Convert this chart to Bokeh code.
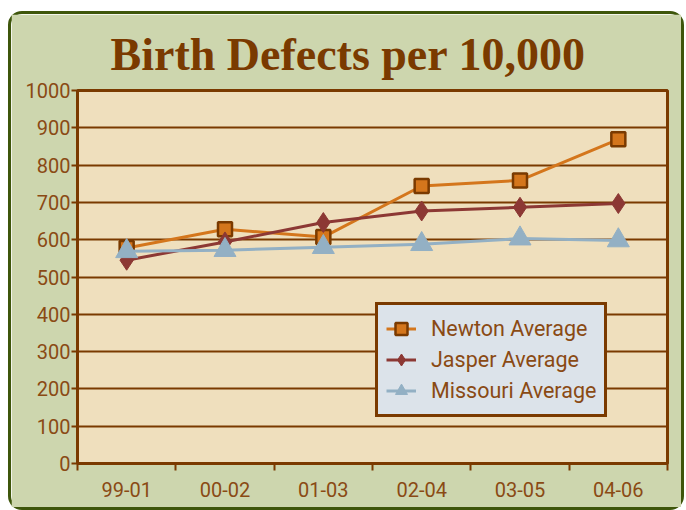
from bokeh.plotting import figure
from bokeh.models import Range1d, FixedTicker, Legend, LegendItem, Title
from bokeh.embed import file_html
from bokeh.resources import INLINE

periods = ["99-01", "00-02", "01-03", "02-04", "03-05", "04-06"]
newton = [578, 628, 607, 744, 759, 869]
jasper = [545, 594, 646, 677, 687, 697]
missouri = [569, 572, 580, 588, 603, 598]
y_ticks = [0, 100, 200, 300, 400, 500, 600, 700, 800, 900, 1000]
title_text = "Birth Defects per 10,000"

BROWN = "#7a3a00"
LABEL = "#8a4a14"
GREEN = "#cdd6ae"
FONT = "Roboto"

xpos = list(range(1, len(periods) + 1))

p = figure(width=670, height=493, output_backend="svg", toolbar_location=None,
           x_range=Range1d(0.5, len(periods) + 0.5), y_range=Range1d(0, 1000),
           min_border_left=66, min_border_right=14, min_border_top=76, min_border_bottom=44)
p.frame_width = 590
p.frame_height = 373

p.background_fill_color = "#efdfbd"
p.border_fill_color = GREEN
p.outline_line_color = BROWN
p.outline_line_width = 3
p.styles = {"border": "3px solid #3e560b", "border-radius": "14px",
            "margin-left": "8px", "margin-top": "11px"}

t = Title(text=title_text, text_font="Liberation Serif", text_font_style="bold",
          text_font_size="46px", text_color=BROWN, align="left", offset=33, standoff=22)
p.add_layout(t, "above")

# y axis
p.yaxis.ticker = FixedTicker(ticks=y_ticks)
p.yaxis.axis_line_color = BROWN
p.yaxis.axis_line_width = 3
p.yaxis.major_tick_line_color = BROWN
p.yaxis.major_tick_line_width = 2
p.yaxis.major_tick_out = 6
p.yaxis.major_tick_in = 0
p.yaxis.minor_tick_line_color = None
p.yaxis.major_label_text_font = FONT
p.yaxis.major_label_text_font_size = "20px"
p.yaxis.major_label_text_color = LABEL
p.yaxis.major_label_standoff = 1

# x axis
p.xaxis.ticker = FixedTicker(ticks=xpos, minor_ticks=[x - 0.5 for x in xpos] + [len(periods) + 0.5])
p.xaxis.major_label_overrides = {x: lab for x, lab in zip(xpos, periods)}
p.xaxis.axis_line_color = BROWN
p.xaxis.axis_line_width = 3
p.xaxis.major_tick_line_color = None
p.xaxis.major_tick_out = 0
p.xaxis.minor_tick_line_color = BROWN
p.xaxis.minor_tick_line_width = 2
p.xaxis.minor_tick_out = 7
p.xaxis.minor_tick_in = 0
p.xaxis.major_label_text_font = FONT
p.xaxis.major_label_text_font_size = "20px"
p.xaxis.major_label_text_color = LABEL
p.xaxis.major_label_standoff = 11

p.xgrid.grid_line_color = None
p.ygrid.grid_line_color = BROWN
p.ygrid.grid_line_width = 2
p.ygrid.grid_line_alpha = 1

l1 = p.line(xpos, newton, line_color="#d4761c", line_width=3)
m1 = p.scatter(xpos, newton, marker="square", size=14, fill_color="#d4761c", line_color=BROWN, line_width=2.5)
l2 = p.line(xpos, jasper, line_color="#8c3834", line_width=3)
m2 = p.scatter(xpos, jasper, marker="diamond", size=20, fill_color="#8c3834", line_color="#8c3834")
l3 = p.line(xpos, missouri, line_color="#93b0c4", line_width=3)
m3 = p.scatter(xpos, missouri, marker="triangle", size=22, fill_color="#93b0c4", line_color="#93b0c4")

legend = Legend(items=[
    LegendItem(label="Newton Average", renderers=[l1, m1]),
    LegendItem(label="Jasper Average", renderers=[l2, m2]),
    LegendItem(label="Missouri Average", renderers=[l3, m3]),
], location=(298, 46))
legend.background_fill_color = "#dce3ea"
legend.background_fill_alpha = 1
legend.border_line_color = BROWN
legend.border_line_width = 3
legend.border_line_alpha = 1
legend.label_text_font = FONT
legend.label_text_font_size = "21.5px"
legend.label_text_color = LABEL
legend.glyph_width = 30
legend.glyph_height = 31
legend.label_height = 31
legend.label_standoff = 15
legend.spacing = 0
legend.padding = 8
legend.margin = 0
p.add_layout(legend, "center")

open("out.html", "w").write(file_html(p, INLINE))
